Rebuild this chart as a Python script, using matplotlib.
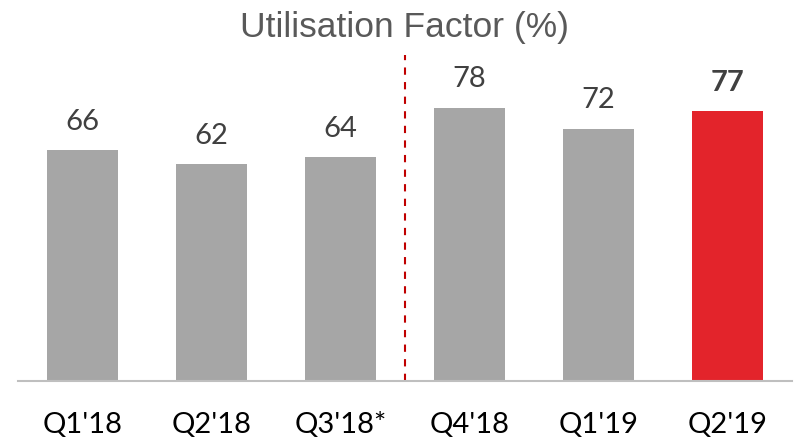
import matplotlib.pyplot as plt

quarters = ["Q1'18", "Q2'18", "Q3'18*", "Q4'18", "Q1'19", "Q2'19"]
factor = [66, 62, 64, 78, 72, 77]
bar_colors = ['#A6A6A6'] * 5 + ['#E3242B']

fig = plt.figure(figsize=(7.94, 4.37), dpi=100)
ax = fig.add_axes([18 / 794, 56 / 437, 774 / 794, 326 / 437])

x = range(len(quarters))
bars = ax.bar(x, factor, width=0.555, color=bar_colors, zorder=2)

for i, (b, v) in enumerate(zip(bars, factor)):
    ax.annotate(str(v), (b.get_x() + b.get_width() / 2, v),
                xytext=(0, 14.5), textcoords='offset points',
                ha='center', va='baseline', fontsize=21, family='Lato',
                color='#404040', fontweight='bold' if i == len(factor) - 1 else 'normal')

# split between old and new reporting basis
ax.axvline(2.5, ymin=0, ymax=1, color='#C00000', lw=1.5, ls=(0, (3.5, 3.5)))

ax.set_xlim(-0.5, len(quarters) - 0.5)
ax.set_ylim(0, 93)
ax.set_xticks(list(x))
ax.set_xticklabels(quarters, fontsize=21, family='Lato', color='#000000')
ax.tick_params(axis='x', length=0, pad=22)
ax.set_yticks([])
for s in ['top', 'left', 'right']:
    ax.spines[s].set_visible(False)
ax.spines['bottom'].set_color('#BFBFBF')
ax.spines['bottom'].set_linewidth(1.5)

fig.text(405 / 794, 1 - 37 / 437, 'Utilisation Factor (%)', ha='center', va='baseline',
         fontsize=25.5, family='Liberation Sans', color='#595959')

fig.savefig('out.png', dpi=100)
